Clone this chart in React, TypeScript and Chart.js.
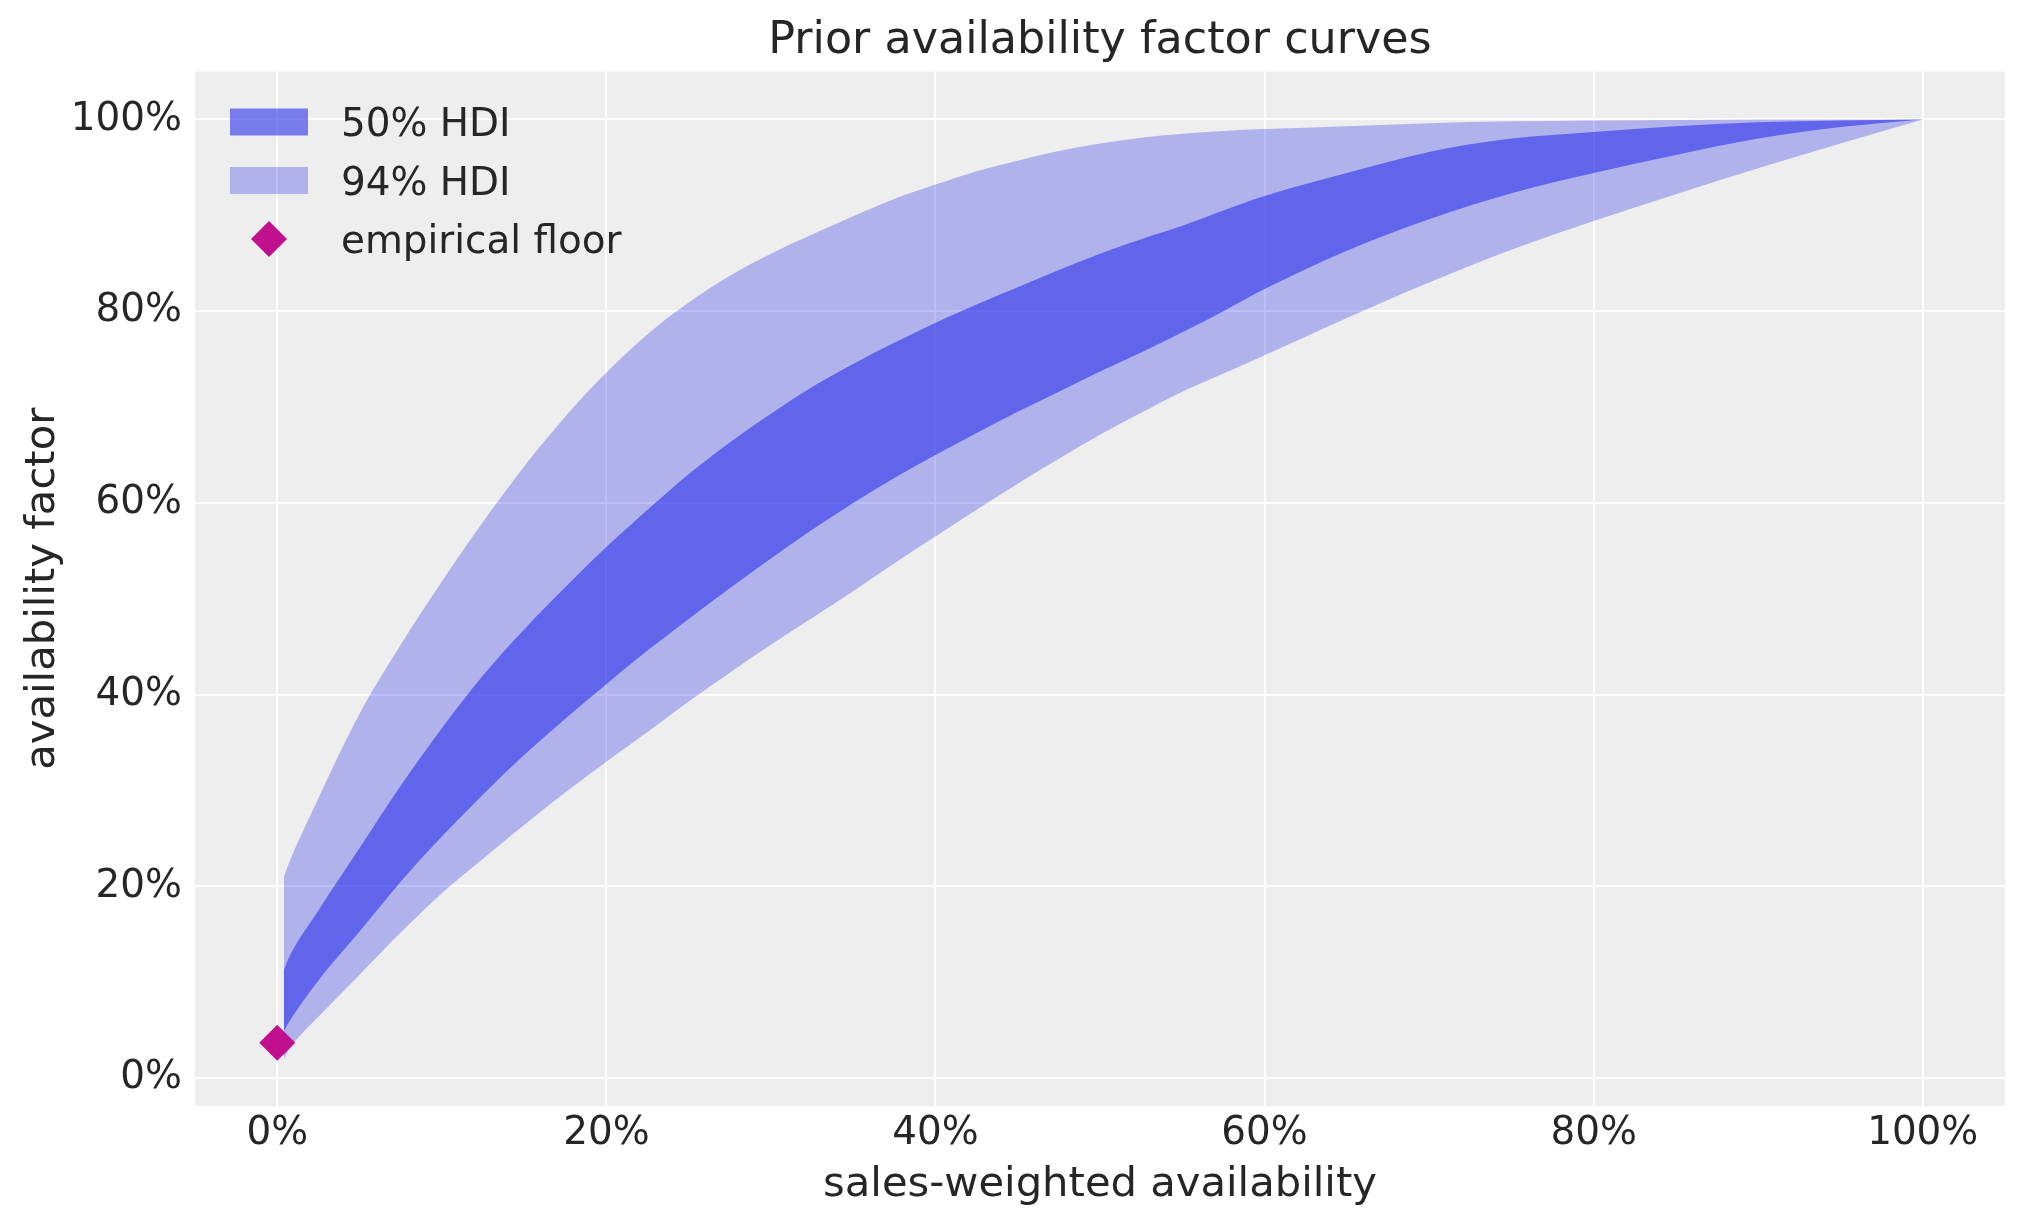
import React, { useEffect, useRef } from "react";
import { Chart, registerables } from "chart.js";

Chart.register(...registerables);

// ---- data ----
const xs = [
  0.004, 0.008, 0.025, 0.05, 0.075, 0.1, 0.125, 0.15, 0.175, 0.2, 0.225, 0.25,
  0.275, 0.3, 0.325, 0.35, 0.375, 0.4, 0.425, 0.45, 0.475, 0.5, 0.525, 0.55,
  0.575, 0.6, 0.65, 0.7, 0.75, 0.8, 0.85, 0.9, 0.95, 1.0,
];
const hdi94Low = [
  0.02, 0.032, 0.064, 0.108, 0.152, 0.193, 0.229, 0.264, 0.298, 0.33, 0.361, 0.393,
  0.423, 0.452, 0.48, 0.508, 0.537, 0.565, 0.593, 0.62, 0.646, 0.671, 0.694, 0.716,
  0.735, 0.754, 0.793, 0.83, 0.864, 0.894, 0.922, 0.949, 0.975, 1.0,
];
const hdi94High = [
  0.21, 0.228, 0.292, 0.38, 0.452, 0.518, 0.58, 0.638, 0.69, 0.736, 0.776, 0.809,
  0.837, 0.86, 0.88, 0.899, 0.917, 0.932, 0.946, 0.957, 0.967, 0.975, 0.981, 0.985,
  0.988, 0.99, 0.993, 0.996, 0.998, 0.999, 0.9995, 1.0, 1.0, 1.0,
];
const hdi50Low = [
  0.049, 0.061, 0.102, 0.153, 0.205, 0.252, 0.296, 0.337, 0.375, 0.411, 0.446, 0.479,
  0.511, 0.542, 0.572, 0.6, 0.626, 0.65, 0.673, 0.695, 0.716, 0.737, 0.757, 0.778,
  0.8, 0.823, 0.863, 0.896, 0.923, 0.944, 0.963, 0.98, 0.992, 1.0,
];
const hdi50High = [
  0.113, 0.129, 0.175, 0.24, 0.305, 0.365, 0.42, 0.468, 0.512, 0.554, 0.593, 0.63,
  0.663, 0.693, 0.721, 0.745, 0.767, 0.788, 0.807, 0.825, 0.843, 0.86, 0.875, 0.889,
  0.905, 0.92, 0.944, 0.966, 0.98, 0.987, 0.993, 0.997, 0.999, 1.0,
];
const floorX = [0.0];
const floorY = [0.037];

const seriesLabels = ["50% HDI", "94% HDI", "empirical floor"];
const titleText = "Prior availability factor curves";
const xTitle = "sales-weighted availability";
const yTitle = "availability factor";

// ---- styles ----
const FONT = "DejaVu Sans";
const TEXT = "#262626";
const C50 = "rgba(52,58,235,0.64)";
const C94 = "rgba(52,58,235,0.33)";
const FLOOR = "#c1108e";

const pts = (ys: number[]) => xs.map((x, i) => ({ x, y: ys[i] }));

const bgPlugin = {
  id: "plotBg",
  beforeDraw(chart: any) {
    const { ctx, chartArea } = chart;
    ctx.save();
    ctx.fillStyle = "#eeeeee";
    ctx.fillRect(chartArea.left, chartArea.top, chartArea.right - chartArea.left, chartArea.bottom - chartArea.top);
    ctx.restore();
  },
};

const legendPlugin = {
  id: "innerLegend",
  afterDraw(chart: any) {
    const { ctx } = chart;
    const size = 38.9;
    const swX = 230;
    const swW = 78;
    const swH = 27;
    const textX = 341;
    const rows = [122, 180.5, 239];
    ctx.save();
    ctx.fillStyle = C50;
    ctx.fillRect(swX, rows[0] - swH / 2, swW, swH);
    ctx.fillStyle = C94;
    ctx.fillRect(swX, rows[1] - swH / 2, swW, swH);
    const cx = swX + swW / 2;
    const cy = rows[2];
    const r = 18;
    ctx.fillStyle = FLOOR;
    ctx.beginPath();
    ctx.moveTo(cx, cy - r);
    ctx.lineTo(cx + r, cy);
    ctx.lineTo(cx, cy + r);
    ctx.lineTo(cx - r, cy);
    ctx.closePath();
    ctx.fill();
    ctx.fillStyle = TEXT;
    ctx.font = `${size}px "${FONT}"`;
    ctx.textAlign = "left";
    ctx.textBaseline = "alphabetic";
    seriesLabels.forEach((lab, i) => {
      ctx.fillText(lab, textX, rows[i] + 0.3645 * size);
    });
    ctx.restore();
  },
};

export default function App() {
  const ref = useRef<HTMLCanvasElement | null>(null);

  useEffect(() => {
    if (!ref.current) return;
    Chart.defaults.font.family = FONT;
    Chart.defaults.color = TEXT;
    const band = {
      borderWidth: 0,
      borderColor: "transparent",
      pointRadius: 0,
      cubicInterpolationMode: "monotone",
    };
    const chart = new Chart(ref.current, {
      type: "line",
      data: {
        datasets: [
          { ...band, label: seriesLabels[1] + " low", data: pts(hdi94Low), fill: false, order: 2 },
          { ...band, label: seriesLabels[1], data: pts(hdi94High), backgroundColor: C94, fill: "-1", order: 2 },
          { ...band, label: seriesLabels[0] + " low", data: pts(hdi50Low), fill: false, order: 1 },
          { ...band, label: seriesLabels[0], data: pts(hdi50High), backgroundColor: C50, fill: "-1", order: 1 },
          {
            type: "scatter",
            label: seriesLabels[2],
            data: floorX.map((x, i) => ({ x, y: floorY[i] })),
            pointStyle: "rectRot",
            pointRadius: 18,
            pointHoverRadius: 18,
            backgroundColor: FLOOR,
            borderWidth: 0,
            order: 0,
          },
        ] as any,
      },
      options: {
        animation: false,
        responsive: false,
        devicePixelRatio: 1,
        events: [],
        layout: { padding: { left: 0, right: 10, top: 0, bottom: 0 } },
        plugins: {
          legend: { display: false },
          tooltip: { enabled: false },
          title: {
            display: true,
            fullSize: false,
            text: titleText,
            color: TEXT,
            font: { family: FONT, size: 44.4, weight: "normal", lineHeight: 1.2 },
            padding: { top: 15, bottom: 3.2 },
          },
        },
        scales: {
          x: {
            type: "linear",
            min: -0.05,
            max: 1.05,
            grid: { color: "#ffffff", lineWidth: 2, drawTicks: false },
            border: { display: false },
            ticks: {
              stepSize: 0.2,
              includeBounds: false,
              padding: 5,
              maxRotation: 0,
              autoSkip: false,
              color: TEXT,
              font: { family: FONT, size: 38.9, lineHeight: 1.2 },
              callback: (v: any) => Math.round(Number(v) * 100) + "%",
            },
            title: {
              display: true,
              text: xTitle,
              color: TEXT,
              font: { family: FONT, size: 41.7, lineHeight: 1.2 },
              padding: { top: 0, bottom: 13 },
            },
            afterFit(scale: any) {
              scale.height = 117;
            },
          },
          y: {
            type: "linear",
            min: -0.029,
            max: 1.05,
            grid: { color: "#ffffff", lineWidth: 2, drawTicks: false },
            border: { display: false },
            ticks: {
              stepSize: 0.2,
              includeBounds: false,
              padding: 13,
              color: TEXT,
              font: { family: FONT, size: 38.9, lineHeight: 1.2 },
              callback: (v: any) => Math.round(Number(v) * 100) + "%",
            },
            title: {
              display: true,
              text: yTitle,
              color: TEXT,
              font: { family: FONT, size: 41.7, lineHeight: 1.2 },
              padding: { top: 18, bottom: 0 },
            },
            afterFit(scale: any) {
              scale.width = 195;
            },
          },
        },
      } as any,
      plugins: [bgPlugin, legendPlugin],
    });
    return () => chart.destroy();
  }, []);

  return (
    <div style={{ position: "absolute", left: 0, top: 0, width: 2023, height: 1223, background: "#ffffff" }}>
      <canvas ref={ref} width={2023} height={1223} style={{ display: "block", width: 2023, height: 1223 }} />
    </div>
  );
}
